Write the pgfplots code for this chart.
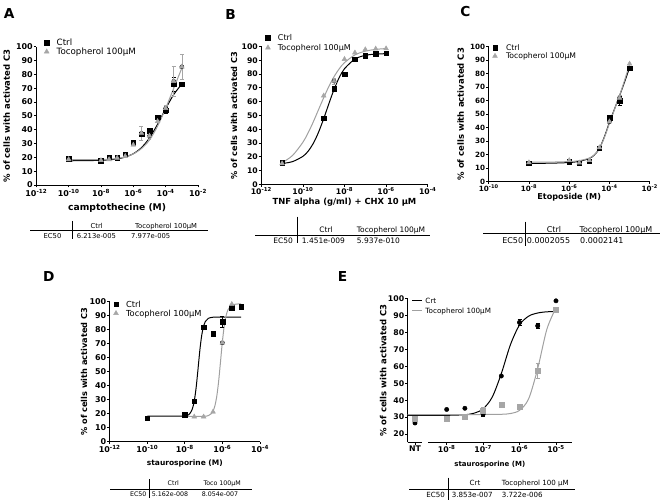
\documentclass[border=0pt]{standalone}
\usepackage{fontspec}
\setmainfont{DejaVu Sans}
\usepackage{pgfplots}
\pgfplotsset{compat=1.18}
\definecolor{gm}{HTML}{A6A6A6}
\definecolor{gl}{HTML}{A0A0A0}
\newcommand{\fs}[1]{\fontsize{#1bp}{#1bp}\selectfont}
\newcommand{\tw}[4]{\node[inner sep=0pt,anchor=base west,font=\fs{#1}] at (#2,{#3+0.365*#1}) {#4};}
\newcommand{\tc}[4]{\node[inner sep=0pt,anchor=base,font=\fs{#1}] at (#2,{#3+0.365*#1}) {#4};}
\newcommand{\te}[4]{\node[inner sep=0pt,anchor=base east,font=\fs{#1}] at (#2,{#3+0.365*#1}) {#4};}
\newcommand{\sx}[1]{10\textsuperscript{-#1}}
\pgfplotsset{
  gp/.style={
    scale only axis, anchor=south west,
    axis lines=left,
    axis line style={-, line width=0.8bp},
    tick align=outside,
    major tick length=2.5bp,
    every tick/.style={black, line width=0.8bp},
    ymin=0, ymax=100, ytick={0,10,...,100},
    /pgf/number format/assume math mode=true,
    xticklabel style={inner sep=0.6bp},
    yticklabel style={inner sep=0.8bp},
    clip=false,
    xlabel style={anchor=center},
    ylabel style={anchor=center},
    legend cell align=left,
  },
  cb/.style={forget plot, black, line width=1bp, smooth, no marks},
  cg/.style={forget plot, gl, line width=1bp, smooth, no marks},
  ebk/.style={forget plot, only marks, mark=none, error bars/.cd, y dir=both, y explicit,
     error bar style={draw=black, line width=0.6bp},
     error mark options={rotate=90, draw=black, mark size=2bp, line width=0.6bp}},
  egr/.style={forget plot, only marks, mark=none, error bars/.cd, y dir=both, y explicit,
     error bar style={draw=gm, line width=0.6bp},
     error mark options={rotate=90, draw=gm, mark size=2bp, line width=0.6bp}},
  ctrl/.style={only marks, mark=square*, mark size=2.3bp, black},
  toco/.style={only marks, mark=triangle*, mark size=2.8bp, gm},
}
\begin{document}
\begin{tikzpicture}
\path[use as bounding box] (0,0) rectangle (660bp,504bp);

% ---------------- A ----------------
\begin{axis}[gp, at={(36.3bp,319bp)}, width=161.7bp, height=138.3bp,
  xmin=-12, xmax=-2, xtick={-12,-10,-8,-6,-4,-2},
  xticklabels={\sx{12},\sx{10},\sx{8},\sx{6},\sx{4},\sx{2}},
  tick label style={font=\fs{8}\bfseries},
  xticklabel style={inner sep=1.6bp},
  xlabel={camptothecine (M)},
  xlabel style={at={(axis description cs:0.5,-0.163)}, font=\fs{9.2}\bfseries},
  ylabel={\% of cells with activated C3},
  ylabel style={at={(axis description cs:-0.183,0.5)}, font=\fs{8.5}\bfseries},
  legend style={at={(0.0489,1.0615)}, anchor=north west, draw=none, fill=none, inner sep=0pt, outer sep=0pt, row sep=0pt, font=\fs{8.7}, nodes={inner sep=0pt, text height=7.68bp, text depth=1.32bp}},
  legend image code/.code={\path[draw=none,fill=none] (-2.5bp,-4.5bp) rectangle (10bp,4.5bp); \draw[#1] plot coordinates {(0bp,0bp)};},
]
\addplot[cb] coordinates {(-10,17.52) (-9,17.59) (-8,17.85) (-7.5,18.19) (-7,18.86) (-6.5,20.16) (-6,22.62) (-5.5,26.97) (-5,34.04) (-4.5,43.9) (-4,55.19) (-3.5,65.43) (-3,73.01)};
\addplot[cg] coordinates {(-10,18.3) (-9,18.3) (-8,18.4) (-7.5,18.7) (-7,19.2) (-6.5,20.3) (-6,22.5) (-5.5,26.3) (-5,32.5) (-4.5,42.5) (-4,55.5) (-3.5,70) (-3,84.5)};
\addplot[ebk] coordinates {(-5.5,36.8) +- (0,1) (-6,30.5) +- (0,1.5) (-4,54) +- (0,2.5) (-3.5,73) +- (0,5)};
\addplot[egr] coordinates {(-5.5,37.5) +- (0,5) (-5,35.5) +- (0,2.5) (-4,55.5) +- (0,2) (-3.5,75) +- (0,11) (-3,85.5) +- (0,9)};
\addplot[ctrl] coordinates {(-10,19.0) (-8,17.5) (-7.5,20) (-7,19.7) (-6.5,22.3) (-6,30.5) (-5.5,36.8) (-5,39.2) (-4.5,48.9) (-4,54) (-3.5,73) (-3,72.8)};
\addlegendentry{Ctrl}
\addplot[toco] coordinates {(-10,18.5) (-8,17.8) (-7.5,18.5) (-7,19.5) (-6.5,20.8) (-6,29) (-5.5,37.5) (-5,35.5) (-4.5,46) (-4,55.5) (-3.5,75) (-3,85.5)};
\addlegendentry{Tocopherol 100µM}
\end{axis}

% ---------------- B ----------------
\begin{axis}[gp, at={(261.3bp,319.5bp)}, width=166.4bp, height=138bp,
  xmin=-12, xmax=-4, xtick={-12,-10,-8,-6,-4},
  xticklabels={\sx{12},\sx{10},\sx{8},\sx{6},\sx{4}},
  tick label style={font=\fs{7.7}\bfseries},
  xlabel={TNF alpha (g/ml) + CHX 10 µM},
  xlabel style={at={(axis description cs:0.5,-0.128)}, font=\fs{8.4}\bfseries},
  ylabel={\% of cells with activated C3},
  ylabel style={at={(axis description cs:-0.164,0.5)}, font=\fs{8.2}\bfseries},
  legend style={at={(0.025,1.10)}, anchor=north west, draw=none, fill=none, inner sep=0pt, outer sep=0pt, row sep=0pt, font=\fs{8}, nodes={inner sep=0pt, text height=7.92bp, text depth=2.08bp}},
  legend image code/.code={\path[draw=none,fill=none] (-2.5bp,-5bp) rectangle (10bp,5bp); \draw[#1] plot coordinates {(0bp,0bp)};},
]
\addplot[cb] coordinates {(-11,15.2) (-10.5,16.57) (-10,20.4) (-9.75,24.1) (-9.5,29.8) (-9.25,37.8) (-9,47.7) (-8.75,58.6) (-8.5,69.0) (-8.25,77.6) (-8,83.9) (-7.5,90.9) (-7,93.6) (-6.5,94.5) (-6,94.8)};
\addplot[cg] coordinates {(-11,15.77) (-10.5,21.0) (-10,30.6) (-9.75,37.4) (-9.5,45.4) (-9.25,54.2) (-9,62.9) (-8.75,71.1) (-8.5,78.2) (-8.25,83.9) (-8,88.3) (-7.5,93.9) (-7,96.6) (-6.5,97.9) (-6,98.5)};
\addplot[ebk] coordinates {(-7.5,90.8) +- (0,1.5) (-6,95) +- (0,1.5)};
\addplot[egr] coordinates {(-8.5,74.9) +- (0,2)};
\addplot[ctrl] coordinates {(-11,15.7) (-9,48) (-8.5,69.6) (-8,79.8) (-7.5,90.8) (-7,93.2) (-6.5,94.8) (-6,95)};
\addlegendentry{Ctrl}
\addplot[toco] coordinates {(-11,15.2) (-9,64.3) (-8.5,74.9) (-8,90.8) (-7.5,95.5) (-7,97.8) (-6.5,98.3) (-6,98.5)};
\addlegendentry{Tocopherol 100µM}
\end{axis}

% ---------------- C ----------------
\begin{axis}[gp, at={(488.7bp,322.3bp)}, width=161bp, height=135bp,
  xmin=-10, xmax=-2, xtick={-10,-8,-6,-4,-2},
  xticklabels={\sx{10},\sx{8},\sx{6},\sx{4},\sx{2}},
  tick label style={font=\fs{7.2}\bfseries},
  xticklabel style={inner sep=0.2bp},
  xlabel={Etoposide (M)},
  xlabel style={at={(axis description cs:0.5,-0.112)}, font=\fs{8.1}\bfseries},
  ylabel={\% of cells with activated C3},
  ylabel style={at={(axis description cs:-0.174,0.5)}, font=\fs{8.5}\bfseries},
  legend style={at={(0.0236,1.023)}, anchor=north west, draw=none, fill=none, inner sep=0pt, outer sep=0pt, row sep=0pt, font=\fs{7.7}, nodes={inner sep=0pt, text height=6.96bp, text depth=1.34bp}},
  legend image code/.code={\path[draw=none,fill=none] (-2.5bp,-4.15bp) rectangle (11bp,4.15bp); \draw[#1] plot coordinates {(0bp,0bp)};},
]
\addplot[cb] coordinates {(-8,13.6) (-7,13.7) (-6,14.2) (-5.5,15.1) (-5,17.2) (-4.75,19.8) (-4.5,24.6) (-4.25,33.3) (-4,44) (-3.75,53.8) (-3.5,63.6) (-3.25,73.8) (-3,84.5)};
\addplot[cg] coordinates {(-8,14.4) (-7,14.5) (-6,14.9) (-5.5,15.6) (-5,17.5) (-4.75,20) (-4.5,24.5) (-4.25,32.8) (-4,43.3) (-3.75,53.5) (-3.5,63.8) (-3.25,75) (-3,87)};
\addplot[ebk] coordinates {(-4,47.5) +- (0,1.5) (-3.5,59.8) +- (0,3.5) (-3,84) +- (0,1.5)};
\addplot[egr] coordinates {(-3.5,62) +- (0,2) (-4,44.5) +- (0,1)};
\addplot[ctrl] coordinates {(-8,13.6) (-6,14.8) (-5.5,13.8) (-5,15.3) (-4.5,24.7) (-4,47.5) (-3.5,59.8) (-3,84)};
\addlegendentry{Ctrl}
\addplot[toco] coordinates {(-8,14.2) (-6,15.8) (-5.5,14) (-5,15.8) (-4.5,25.3) (-4,44.5) (-3.5,62) (-3,87.3)};
\addlegendentry{Tocopherol 100µM}
\end{axis}

% ---------------- D ----------------
\begin{axis}[gp, at={(109.7bp,62.3bp)}, width=150.3bp, height=140bp,
  xmin=-12, xmax=-4, xtick={-12,-10,-8,-6,-4},
  xticklabels={\sx{12},\sx{10},\sx{8},\sx{6},\sx{4}},
  tick label style={font=\fs{8}\bfseries},
  xticklabel style={inner sep=1.3bp},
  xlabel={staurosporine (M)},
  xlabel style={at={(axis description cs:0.5,-0.152)}, font=\fs{7.5}\bfseries},
  ylabel={\% of cells with activated C3},
  ylabel style={at={(axis description cs:-0.171,0.5)}, font=\fs{8.2}\bfseries},
  legend style={at={(0.0253,1.0136)}, anchor=north west, draw=none, fill=none, inner sep=0pt, outer sep=0pt, row sep=0pt, font=\fs{8.3}, nodes={inner sep=0pt, text height=7.53bp, text depth=1.47bp}},
  legend image code/.code={\path[draw=none,fill=none] (-2.5bp,-4.5bp) rectangle (10bp,4.5bp); \draw[#1] plot coordinates {(0bp,0bp)};},
]
\addplot[cb] coordinates {(-10,18.2) (-9,18.2) (-8,18.4) (-7.75,19.86) (-7.6,23.46) (-7.5,28.97) (-7.4,38.5) (-7.3,51.7) (-7.2,65.5) (-7.1,76.2) (-7,82.6) (-6.9,86.0) (-6.75,88.1) (-6.5,88.9) (-6,89) (-5,89)};
\addplot[cg] coordinates {(-7.85,18) (-7,18.1) (-6.75,18.64) (-6.6,19.89) (-6.5,21.85) (-6.4,25.65) (-6.3,32.5) (-6.2,43.3) (-6.1,57.4) (-6.0,71.7) (-5.9,83.0) (-5.8,90.2) (-5.7,94.3) (-5.5,97.5) (-5.25,98.3) (-5,98.5)};
\addplot[ebk] coordinates {(-6,85.8) +- (0,4)};
\addplot[egr] coordinates {(-6,70.7) +- (0,1)};
\addplot[ctrl] coordinates {(-10,16.9) (-8,19.3) (-7.5,28.8) (-7,81.8) (-6.5,77) (-6,85.8) (-5.5,95.7) (-5,96.3)};
\addlegendentry{Ctrl}
\addplot[toco] coordinates {(-7.5,17.8) (-7,17.8) (-6.5,21.3) (-6,70.7) (-5.5,98.2)};
\addlegendentry{Tocopherol 100µM}
\end{axis}

% ---------------- E ----------------
\begin{axis}[gp, at={(407.7bp,61.6bp)}, width=164.3bp, height=143.6bp,
  xmin=-9.07, xmax=-4.56, ymin=15, ymax=100, ytick={20,30,...,100},
  xtick={-8.87,-8,-7,-6,-5},
  xticklabels={NT,\sx{8},\sx{7},\sx{6},\sx{5}},
  x axis line style={draw=none},
  tick label style={font=\fs{7.8}\bfseries},
  xlabel={staurosporine (M)},
  xlabel style={at={(axis description cs:0.5,-0.157)}, font=\fs{7}\bfseries},
  ylabel={\% of cells with activated C3},
  ylabel style={at={(axis description cs:-0.149,0.5)}, font=\fs{8.5}\bfseries},
  legend style={at={(0.0243,1.0216)}, anchor=north west, draw=none, fill=none, inner sep=0pt, outer sep=0pt, row sep=0pt, font=\fs{7.2}, nodes={inner sep=0pt, text height=7.63bp, text depth=2.37bp}},
  legend image code/.code={\path[draw=none,fill=none] (0bp,-5bp) rectangle (13.3bp,5bp); \draw[#1] (0bp,0bp) -- (10bp,0bp);},
]
\addplot[black, line width=1bp, smooth, no marks] coordinates {(-9.07,31) (-8,31.04) (-7.5,31.41) (-7.25,32.28) (-7,34.88) (-6.75,41.79) (-6.5,55.74) (-6.25,72.84) (-6,84.54) (-5.75,89.74) (-5.5,91.6) (-5.25,92.3) (-5,92.44)};
\addlegendentry{Crt}
\addplot[gl, line width=1bp, smooth, no marks] coordinates {(-9.07,31.5) (-7,31.51) (-6.5,31.64) (-6.25,32.1) (-6,33.97) (-5.75,40.82) (-5.5,58.85) (-5.25,81.98) (-5,94.66)};
\addlegendentry{Tocopherol 100µM}
\addplot[ebk] coordinates {(-7,31.8) +- (0,1.5) (-6,86) +- (0,1.8) (-5.5,84) +- (0,1.3)};
\addplot[egr] coordinates {(-7,33.5) +- (0,2.5) (-5.5,57.5) +- (0,4.5)};
\addplot[forget plot, only marks, mark=*, mark size=2.2bp, black] coordinates {(-8.87,26.5) (-8,34.5) (-7.5,35.2) (-7,31.8) (-6.5,54.3) (-6,86) (-5.5,84) (-5,98.8)};
\addplot[forget plot, only marks, mark=square*, mark size=2.5bp, gm] coordinates {(-8.87,29.2) (-8,28.8) (-7.5,30.3) (-7,33.5) (-6.5,37.2) (-6,36) (-5.5,57.5) (-5,93.7)};
\draw[line width=0.8bp] (axis cs:-9.07,15) -- (axis cs:-8.67,15);
\draw[line width=0.8bp] (axis cs:-8.51,15) -- (axis cs:-4.56,15);
\draw[line width=0.8bp] (axis cs:-8.67,15) ++(0,-2.5bp) -- ++(0,5bp);
\draw[line width=0.8bp] (axis cs:-8.51,15) ++(0,-2.5bp) -- ++(0,5bp);
\end{axis}

% ---------------- tables and letters ----------------
\begin{scope}[shift={(0,504bp)}, x=1bp, y=-1bp]
\tc{13.7}{9.2}{13.3}{\bfseries A}
\tc{13.7}{230.5}{14.2}{\bfseries B}
\tc{13.7}{465.3}{11.3}{\bfseries C}
\tc{13.7}{48.7}{276.7}{\bfseries D}
\tc{13.7}{342.5}{276.7}{\bfseries E}
% A
\draw[line width=0.7bp] (72.3,221) -- (72.3,239);
\draw[line width=0.7bp] (30,230.7) -- (208,230.7);
\tc{6.8}{96.7}{226}{Ctrl}
\tw{6.8}{135}{226}{Tocopherol 100µM}
\tc{6.8}{52.5}{236}{EC50}
\tw{6.8}{76.7}{236}{6.213e-005}
\tw{6.8}{131}{236}{7.977e-005}
% B
\draw[line width=0.7bp] (297.7,216.7) -- (297.7,243);
\draw[line width=0.7bp] (255,235) -- (430,235);
\tc{7.5}{326}{230}{Ctrl}
\tw{7.5}{356.7}{230}{Tocopherol 100µM}
\te{7.5}{293}{240.7}{EC50}
\tw{7.5}{301.7}{240.7}{1.451e-009}
\tw{7.5}{356.7}{240.7}{5.937e-010}
% C
\draw[line width=0.7bp] (525,221.7) -- (525,246);
\draw[line width=0.7bp] (483.3,233.3) -- (660,233.3);
\tc{8}{554}{229.3}{Ctrl}
\tw{8}{579.3}{229.3}{Tocopherol 100µM}
\te{8}{523.3}{241}{EC50}
\tw{8}{526.7}{241}{0.0002055}
\tw{8}{580}{241}{0.0002141}
% D
\draw[line width=0.7bp] (149,479.3) -- (149,498.3);
\draw[line width=0.7bp] (110,489) -- (252.3,489);
\tc{6.3}{173.3}{483.3}{Ctrl}
\tw{6.3}{203.3}{483.3}{Toco 100µM}
\te{6.3}{146.7}{494.3}{EC50}
\tw{6.3}{151.7}{494.3}{5.162e-008}
\tw{6.3}{201.7}{494.3}{8.054e-007}
% E
\draw[line width=0.7bp] (448.3,477.7) -- (448.3,500);
\draw[line width=0.7bp] (409,489) -- (575,489);
\tc{7.1}{475}{482.7}{Crt}
\tw{7.1}{501.7}{482.7}{Tocopherol 100 µM}
\te{7.1}{445}{495}{EC50}
\tw{7.1}{451.7}{495}{3.853e-007}
\tw{7.1}{501.7}{495}{3.722e-006}
\end{scope}
\end{tikzpicture}
\end{document}
